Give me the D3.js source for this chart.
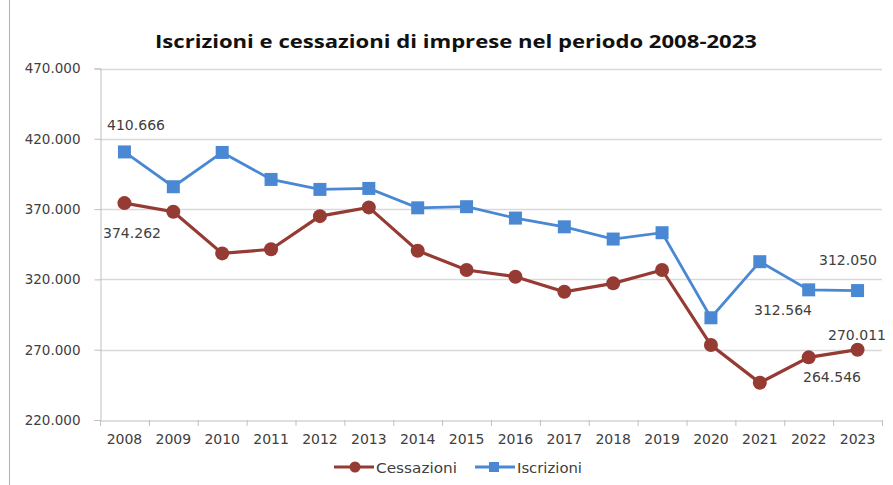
<!DOCTYPE html>
<html lang="it">
<head>
<meta charset="UTF-8">
<title>Iscrizioni e cessazioni di imprese</title>
<script src="https://d3js.org/d3.v7.min.js"></script>
<style>
  body { margin: 0; background: #fff; }
  svg { display: block; }
</style>
</head>
<body>
<svg width="893" height="485"></svg>
<script>
// data
var years = ["2008","2009","2010","2011","2012","2013","2014","2015","2016","2017","2018","2019","2020","2021","2022","2023"];
var iscrizioni = [410666, 385900, 410300, 391100, 384000, 384700, 370900, 371700, 363600, 357400, 348700, 353200, 292700, 332600, 312564, 312050];
var cessazioni = [374262, 368100, 338500, 341400, 365000, 371200, 340400, 326700, 321900, 311200, 317200, 326700, 273300, 246500, 264546, 270011];
var yTicks = [220000, 270000, 320000, 370000, 420000, 470000];

var svg = d3.select("svg");
var margin = {left: 100, right: 11, top: 68.5, bottom: 65};
var width = 893, height = 485;

var x = d3.scaleBand().domain(years).range([margin.left, width - margin.right]);
var y = d3.scaleLinear().domain([220000, 470000]).range([420, 68.5]);
var fmt = function(v) { return d3.format(",")(v).replace(/,/g, "."); };

var labelFont = "DejaVu Sans, Verdana, sans-serif";
var txt = "#404040";

// outer frame on left
svg.append("line").attr("x1", 9.5).attr("x2", 9.5).attr("y1", 0).attr("y2", height)
  .attr("stroke", "#b0b0b0");

// title
svg.append("text").attr("x", 456).attr("y", 48).attr("text-anchor", "middle")
  .attr("font-family", "'Open Sans', sans-serif").attr("font-weight", "bold")
  .attr("font-size", 18).attr("fill", "#111")
  .attr("textLength", 602).attr("lengthAdjust", "spacingAndGlyphs")
  .text("Iscrizioni e cessazioni di imprese nel periodo 2008-2023");

// gridlines
svg.append("g").selectAll("line").data(yTicks.slice(1)).join("line")
  .attr("x1", margin.left).attr("x2", width - margin.right)
  .attr("y1", d => Math.round(y(d)) + 0.5).attr("y2", d => Math.round(y(d)) + 0.5)
  .attr("stroke", "#d9d9d9").attr("stroke-width", 1.5);

// y axis
var yAxis = svg.append("g").attr("transform", "translate(" + (margin.left + 0.5) + ",0)")
  .call(d3.axisLeft(y).tickValues(yTicks).tickSize(6).tickPadding(14).tickFormat(fmt));
yAxis.select(".domain").attr("stroke", "#bfbfbf");
yAxis.selectAll(".tick line").attr("stroke", "#bfbfbf");
yAxis.selectAll("text").attr("font-family", labelFont).attr("font-size", 13.5).attr("fill", txt);

// x axis
var xAxis = svg.append("g").attr("transform", "translate(0,420.5)")
  .call(d3.axisBottom(x).tickSize(0).tickPadding(14));
xAxis.select(".domain").attr("stroke", "#bfbfbf");
xAxis.selectAll("text").attr("font-family", labelFont).attr("font-size", 14).attr("fill", txt);
svg.append("g").selectAll("line").data(years.concat(["end"])).join("line")
  .attr("x1", (d, i) => margin.left + i * x.step() + 0.5)
  .attr("x2", (d, i) => margin.left + i * x.step() + 0.5)
  .attr("y1", 420).attr("y2", 426).attr("stroke", "#bfbfbf");

var cx = d => x(d) + x.bandwidth() / 2;
var redC = "#963a34", blueC = "#4a88d4";

// Iscrizioni
svg.append("path").datum(iscrizioni)
  .attr("d", d3.line().x((d, i) => cx(years[i])).y(d => y(d)))
  .attr("fill", "none").attr("stroke", blueC).attr("stroke-width", 2.8);
svg.append("g").selectAll("rect").data(iscrizioni).join("rect")
  .attr("x", (d, i) => cx(years[i]) - 6.5).attr("y", d => y(d) - 6.5)
  .attr("width", 13).attr("height", 13).attr("fill", blueC);

// Cessazioni
svg.append("path").datum(cessazioni)
  .attr("d", d3.line().x((d, i) => cx(years[i])).y(d => y(d)))
  .attr("fill", "none").attr("stroke", redC).attr("stroke-width", 3.2);
svg.append("g").selectAll("circle").data(cessazioni).join("circle")
  .attr("cx", (d, i) => cx(years[i])).attr("cy", d => y(d)).attr("r", 7)
  .attr("fill", redC);

// data labels
var labels = [
  {v: iscrizioni[0], x: 136, y: 130},
  {v: cessazioni[0], x: 132, y: 238},
  {v: iscrizioni[15], x: 848, y: 265},
  {v: iscrizioni[14], x: 783, y: 315},
  {v: cessazioni[15], x: 857, y: 340},
  {v: cessazioni[14], x: 832, y: 382}
];
svg.append("g").selectAll("text").data(labels).join("text")
  .attr("x", d => d.x).attr("y", d => d.y).attr("text-anchor", "middle")
  .attr("font-family", labelFont).attr("font-size", 14).attr("fill", txt)
  .text(d => fmt(d.v));

// legend
var legend = [
  {name: "Cessazioni", color: redC, x: 334, shape: "circle", w: 81},
  {name: "Iscrizioni", color: blueC, x: 475, shape: "rect", w: 65}
];
var lg = svg.append("g").selectAll("g").data(legend).join("g")
  .attr("transform", d => "translate(" + d.x + ",467)");
lg.append("line").attr("x1", 0).attr("x2", 40).attr("y1", 0).attr("y2", 0)
  .attr("stroke", d => d.color).attr("stroke-width", 3);
lg.filter(d => d.shape === "circle").append("circle").attr("cx", 21).attr("r", 5.5)
  .attr("fill", d => d.color);
lg.filter(d => d.shape === "rect").append("rect").attr("x", 14).attr("y", -5)
  .attr("width", 10).attr("height", 10).attr("fill", d => d.color);
lg.append("text").attr("x", 42).attr("y", 5.5).attr("font-family", labelFont)
  .attr("font-size", 14.5).attr("fill", txt)
  .attr("textLength", d => d.w).attr("lengthAdjust", "spacingAndGlyphs")
  .text(d => d.name);
</script>
</body>
</html>
